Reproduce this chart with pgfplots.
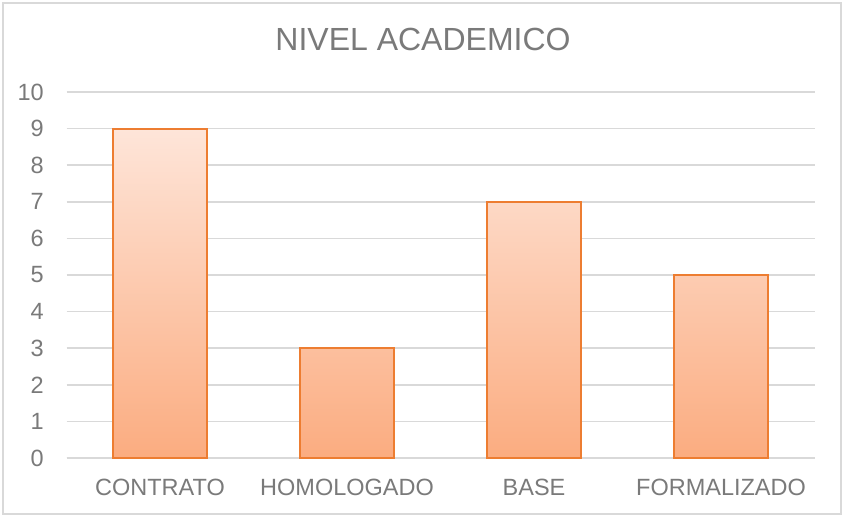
\documentclass[border=0pt]{standalone}
\usepackage{pgfplots}
\pgfplotsset{compat=1.18}
\usepackage{fontspec}
\setmainfont{Liberation Sans}
\definecolor{txtgray}{HTML}{7A7A7A}
\definecolor{gridgray}{HTML}{D9D9D9}
\definecolor{barline}{HTML}{ED7D31}
\definecolor{bartop}{HTML}{FEE5D9}
\definecolor{barbot}{HTML}{FBAC80}
\definecolor{framegray}{HTML}{D9D9D9}
\begin{document}
\begin{tikzpicture}[x=1pt,y=1pt]
\useasboundingbox (0,0) rectangle (845,517);
\fill[white] (0,0) rectangle (845,517);
\draw[framegray, line width=1.2pt] (3,3) rectangle (841,514);
\node[anchor=base, text=txtgray, font=\fontsize{32}{38}\selectfont, inner sep=0pt] at (423,466) {NIVEL ACADEMICO};
\begin{axis}[
  at={(66.5pt,59pt)}, anchor=south west,
  scale only axis, width=748pt, height=366pt,
  xmin=-0.5, xmax=3.5, ymin=0, ymax=10,
  ytick={0,1,...,10},
  xtick={0,1,2,3},
  xticklabels={CONTRATO,HOMOLOGADO,BASE,FORMALIZADO},
  axis line style={draw=none},
  axis x line*=bottom,
  axis y line*=left,
  x axis line style={draw=gridgray, line width=1.5pt},
  major tick length=0pt,
  ymajorgrids,
  grid style={gridgray, line width=1.5pt},
  /pgf/number format/assume math mode=true,
  ticklabel style={text=txtgray, font=\fontsize{23.5}{28}\selectfont},
  yticklabel style={anchor=east, inner sep=0pt, xshift=-22.5pt},
  xticklabel style={anchor=north, inner sep=0pt, yshift=-21pt},
  ybar, bar width=94pt,
]
\addplot[draw=barline, line width=2pt, top color=bartop, bottom color=barbot] coordinates {(0,9) (1,3) (2,7) (3,5)};
\end{axis}
\end{tikzpicture}
\end{document}
